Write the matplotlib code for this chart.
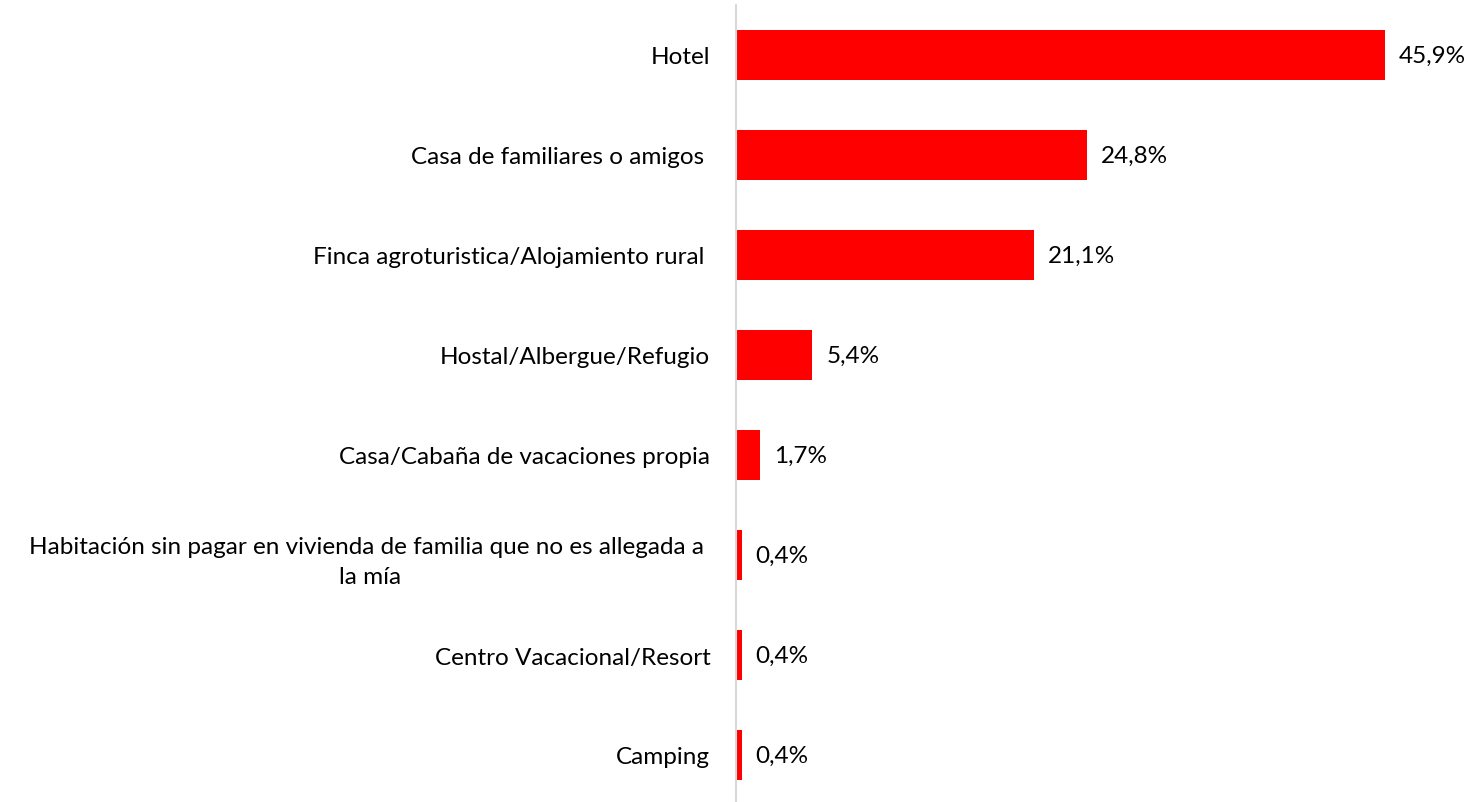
import matplotlib
matplotlib.use("Agg")
import matplotlib.pyplot as plt

categories = [
    "Hotel",
    "Casa de familiares o amigos ",
    "Finca agroturistica/Alojamiento rural ",
    "Hostal/Albergue/Refugio",
    "Casa/Cabaña de vacaciones propia",
    "Habitación sin pagar en vivienda de familia que no es allegada a \nla mía",
    "Centro Vacacional/Resort",
    "Camping",
]
values = [45.9, 24.8, 21.1, 5.4, 1.7, 0.4, 0.4, 0.4]
value_labels = ["45,9%", "24,8%", "21,1%", "5,4%", "1,7%", "0,4%", "0,4%", "0,4%"]

plt.rcParams['font.family'] = ['Lato', 'DejaVu Sans']

W, H = 1473, 803
fig = plt.figure(figsize=(W / 100, H / 100), dpi=100)
left = 736 / W
right = 1443 / W
top = 1 - 6 / H
ax = fig.add_axes([left, 0, right - left, top])

y = list(range(len(categories)))
ax.barh(y, values, height=0.5, color="#FF0000")
ax.set_xlim(0, 50)
ax.set_ylim(-0.5 + 7.97, -0.5)

for s in ["top", "right", "bottom"]:
    ax.spines[s].set_visible(False)
ax.spines["left"].set_color("#D9D9D9")
ax.spines["left"].set_linewidth(1.5)
ax.set_xticks([])
ax.set_yticks(y)
ax.set_yticklabels(categories, fontsize=17.5, color="#000000",
                   multialignment="center", linespacing=1.5)
ax.tick_params(axis="y", length=0, pad=18.5)

for yi, v, lab in zip(y, values, value_labels):
    ax.annotate(lab, xy=(v, yi), xytext=(10, 0), textcoords="offset points",
                va="center", ha="left", fontsize=17.5, color="#000000")

fig.savefig("out.png", dpi=100)
